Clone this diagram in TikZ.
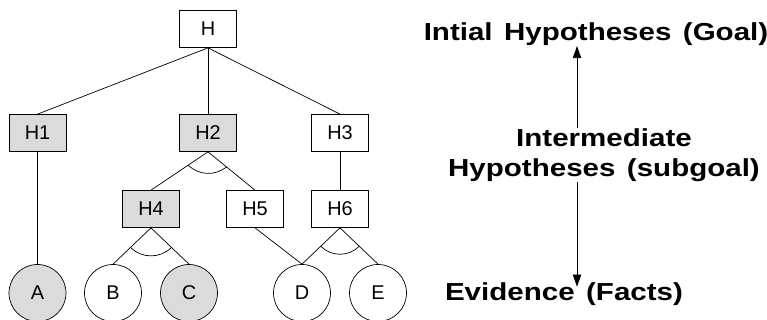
\documentclass[tikz,border=0pt]{standalone}
\usepackage{fontspec}
\setmainfont{Liberation Sans}
\newfontfamily\headfont[FakeStretch=1.2,WordSpace=1.4]{Liberation Sans}
\usetikzlibrary{arrows.meta}
\usetikzlibrary{calc}

\tikzset{
  hyp/.style={rectangle,draw,line width=0.6pt,minimum width=1.71cm,minimum height=1.11cm,inner sep=0pt,font=\fontsize{17}{20}\selectfont},
  hypon/.style={hyp,fill=black!14},
  fact/.style={circle,draw,line width=0.6pt,minimum size=1.71cm,inner sep=0pt,font=\fontsize{17}{20}\selectfont},
  facton/.style={fact,fill=black!14},
  level/.style={font=\headfont\bfseries\fontsize{21}{25.6}\selectfont,align=center,inner sep=0pt},
  link/.style={line width=0.6pt},
  rise/.style={line width=0.6pt,-{Triangle[width=0.25cm,length=0.36cm]}},
}

\begin{document}
\begin{tikzpicture}[x=0.03cm,y=-0.03cm]
\useasboundingbox (0,0) rectangle (767,320);

% hypotheses
\node[hyp] (H) at (208,29) {H};
\node[hypon] (H1) at (37.5,133) {H1};
\node[hypon] (H2) at (208,133) {H2};
\node[hyp] (H3) at (340,133) {H3};
\node[hypon] (H4) at (151,209) {H4};
\node[hyp] (H5) at (255,209) {H5};
\node[hyp] (H6) at (340,209) {H6};

% evidence
\node[facton] (A) at (37.5,293) {A};
\node[fact] (B) at (113,293) {B};
\node[facton] (C) at (189,293) {C};
\node[fact] (D) at (302,293) {D};
\node[fact] (E) at (378,293) {E};

\draw[link] (H.south) -- (H1.north);
\draw[link] (H.south) -- (H2.north);
\draw[link] (H.south) -- (H3.north);
\draw[link] (H1.south) -- (A.north);
\draw[link] (H2.south) -- (H4.north);
\draw[link] (H2.south) -- (H5.north);
\draw[link] (H3.south) -- (H6.north);
\draw[link] (H4.south) -- (B.north);
\draw[link] (H4.south) -- (C.north);
\draw[link] (H5.south) -- (D.north);
\draw[link] (H6.south) -- (D.north);
\draw[link] (H6.south) -- (E.north);

% and-arcs
\draw[link] ($(H2.south)!0.72cm!(H4.north)$) to[bend right=40] ($(H2.south)!0.72cm!(H5.north)$);
\draw[link] ($(H4.south)!0.85cm!(B.north)$) to[bend right=45] ($(H4.south)!0.85cm!(C.north)$);
\draw[link] ($(H6.south)!0.8cm!(D.north)$) to[bend right=45] ($(H6.south)!0.8cm!(E.north)$);

% levels
\node[level,anchor=base] (goal) at (596,40.7) {Intial Hypotheses (Goal)};
\node[level] (sub) at (604,155) {Intermediate\\Hypotheses (subgoal)};
\node[level,anchor=base] (facts) at (564,300.7) {Evidence (Facts)};

\coordinate (ax) at (577,0);
\draw[rise] (sub.north -| ax) -- (goal.south -| ax);
\draw[rise] (sub.south -| ax) -- ([yshift=-0.12cm]facts.north -| ax);

\end{tikzpicture}
\end{document}
